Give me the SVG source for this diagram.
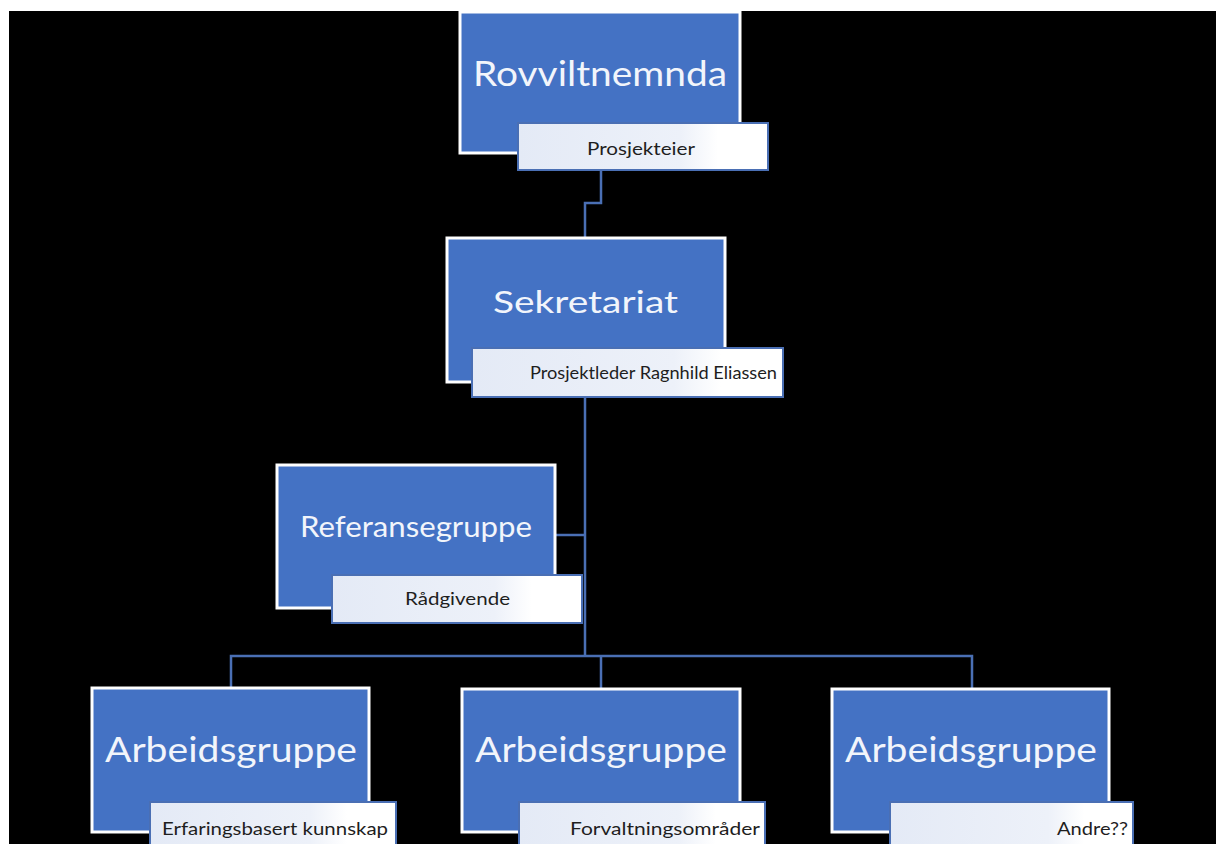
<svg xmlns="http://www.w3.org/2000/svg" width="1216" height="844" viewBox="0 0 1216 844">
<defs>
<linearGradient id="lg" x1="0" y1="0" x2="1" y2="0">
<stop offset="0" stop-color="#e4eaf6"/>
<stop offset="0.65" stop-color="#edf1f9"/>
<stop offset="0.8" stop-color="#ffffff"/>
<stop offset="1" stop-color="#ffffff"/>
</linearGradient>
<style>
.box{fill:#4472c4;stroke:#ffffff;stroke-width:3}
.lab{fill:url(#lg);stroke:#4a6fb4;stroke-width:2}
.big{font-family:Lato,"Open Sans",sans-serif;fill:#f2f5fb}
.sm{font-family:Lato,"Open Sans",sans-serif;fill:#1e1e1e;font-size:18px}
.con{fill:none;stroke:#4a6fb4;stroke-width:2.5}
</style>
</defs>
<rect x="0" y="0" width="1216" height="844" fill="#ffffff"/>
<rect x="9" y="11" width="1207" height="833" fill="#000000"/>
<g id="connectors">
<polyline class="con" points="601,170 601,203 585,203 585,238"/>
<polyline class="con" points="585,397 585,656"/>
<polyline class="con" points="555,535 585,535"/>
<polyline class="con" points="231,688 231,656 972,656 972,689"/>
<polyline class="con" points="601,656 601,689"/>
</g>
<g id="rovviltnemnda">
<rect class="box" x="460" y="12" width="280" height="141"/>
<text class="big" x="473" y="86" font-size="34" textLength="254" lengthAdjust="spacingAndGlyphs">Rovviltnemnda</text>
<rect class="lab" x="518" y="123" width="250" height="47"/>
<text class="sm" x="587" y="155" textLength="108" lengthAdjust="spacingAndGlyphs">Prosjekteier</text>
</g>
<g id="sekretariat">
<rect class="box" x="447" y="238" width="278" height="144"/>
<text class="big" x="493" y="313" font-size="31" textLength="185" lengthAdjust="spacingAndGlyphs">Sekretariat</text>
<rect class="lab" x="472" y="348" width="311" height="49"/>
<text class="sm" x="530" y="379" textLength="247" lengthAdjust="spacingAndGlyphs">Prosjektleder Ragnhild Eliassen</text>
</g>
<g id="referansegruppe">
<rect class="box" x="277" y="465" width="278" height="143"/>
<text class="big" x="300" y="537" font-size="29" textLength="232" lengthAdjust="spacingAndGlyphs">Referansegruppe</text>
<rect class="lab" x="332" y="575" width="250" height="48"/>
<text class="sm" x="405" y="605" textLength="105" lengthAdjust="spacingAndGlyphs">Rådgivende</text>
</g>
<g id="arbeidsgruppe1">
<rect class="box" x="92" y="688" width="277" height="144"/>
<text class="big" x="105" y="762" font-size="34" textLength="252" lengthAdjust="spacingAndGlyphs">Arbeidsgruppe</text>
<rect class="lab" x="150" y="802" width="246" height="50"/>
<text class="sm" x="162" y="835" textLength="226" lengthAdjust="spacingAndGlyphs">Erfaringsbasert kunnskap</text>
</g>
<g id="arbeidsgruppe2">
<rect class="box" x="462" y="689" width="278" height="143"/>
<text class="big" x="475" y="762" font-size="34" textLength="252" lengthAdjust="spacingAndGlyphs">Arbeidsgruppe</text>
<rect class="lab" x="519" y="802" width="246" height="50"/>
<text class="sm" x="570" y="835" textLength="190" lengthAdjust="spacingAndGlyphs">Forvaltningsområder</text>
</g>
<g id="arbeidsgruppe3">
<rect class="box" x="832" y="689" width="277" height="143"/>
<text class="big" x="845" y="762" font-size="34" textLength="252" lengthAdjust="spacingAndGlyphs">Arbeidsgruppe</text>
<rect class="lab" x="890" y="802" width="243" height="50"/>
<text class="sm" x="1057" y="835" textLength="71" lengthAdjust="spacingAndGlyphs">Andre??</text>
</g>
</svg>
